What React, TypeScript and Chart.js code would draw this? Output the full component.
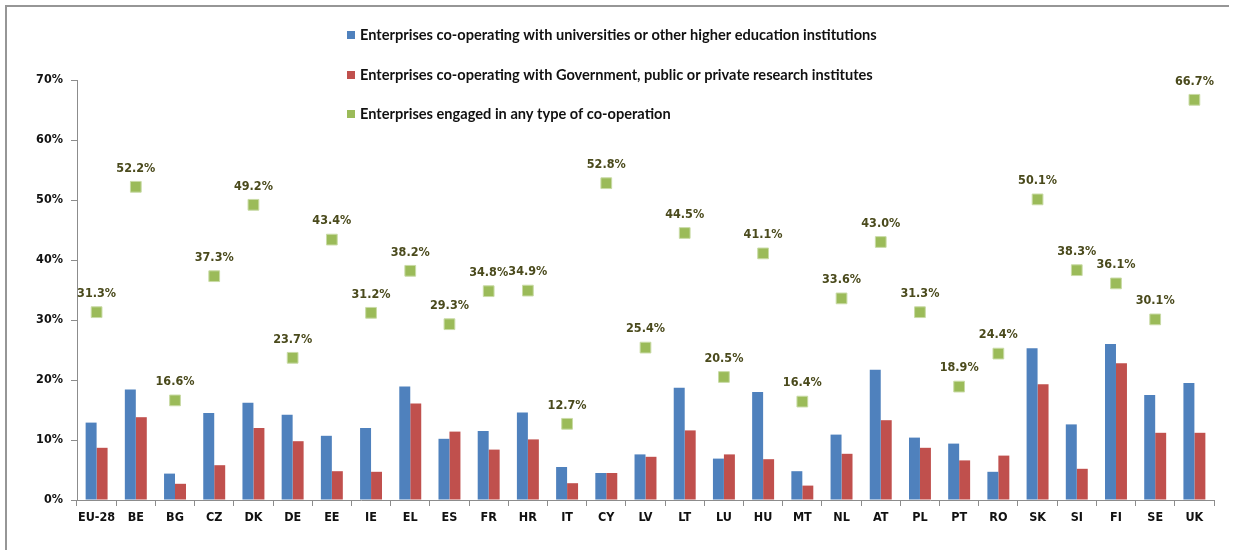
import React, { useEffect, useRef } from "react";
import { Chart, registerables } from "chart.js";

Chart.register(...registerables);

const categories = ["EU-28", "BE", "BG", "CZ", "DK", "DE", "EE", "IE", "EL", "ES", "FR", "HR", "IT", "CY", "LV", "LT", "LU", "HU", "MT", "NL", "AT", "PL", "PT", "RO", "SK", "SI", "FI", "SE", "UK"];

const universities = [12.9, 18.4, 4.4, 14.5, 16.2, 14.2, 10.7, 12.0, 18.9, 10.2, 11.5, 14.6, 5.5, 4.5, 7.6, 18.7, 6.9, 18.0, 4.8, 10.9, 21.7, 10.4, 9.4, 4.7, 25.3, 12.6, 26.0, 17.5, 19.5];

const government = [8.7, 13.8, 2.7, 5.8, 12.0, 9.8, 4.8, 4.7, 16.1, 11.4, 8.4, 10.1, 2.8, 4.5, 7.2, 11.6, 7.6, 6.8, 2.4, 7.7, 13.3, 8.7, 6.6, 7.4, 19.3, 5.2, 22.8, 11.2, 11.2];

const anyCooperation = [31.3, 52.2, 16.6, 37.3, 49.2, 23.7, 43.4, 31.2, 38.2, 29.3, 34.8, 34.9, 12.7, 52.8, 25.4, 44.5, 20.5, 41.1, 16.4, 33.6, 43.0, 31.3, 18.9, 24.4, 50.1, 38.3, 36.1, 30.1, 66.7];

const seriesLabels = [
  "Enterprises co-operating with universities or other higher education institutions",
  "Enterprises co-operating with Government, public or private research institutes",
  "Enterprises engaged in any type of co-operation",
];

const yTicks = [0, 10, 20, 30, 40, 50, 60, 70];

const BLUE = "#4F81BD";
const RED = "#C0504D";
const GREEN = "#9BBB59";
const AXIS = "#8c8c8c";
const TICK_FONT = '"DejaVu Sans Condensed", "DejaVu Sans", sans-serif';

const decorPlugin = {
  id: "decor",
  afterDatasetsDraw(chart: any) {
    const ctx = chart.ctx;
    const meta = chart.getDatasetMeta(2);
    const data = chart.data.datasets[2].data as number[];
    ctx.save();
    ctx.font = `bold 12.5px ${TICK_FONT}`;
    ctx.fillStyle = "#4a4a1c";
    ctx.textAlign = "center";
    ctx.textBaseline = "middle";
    meta.data.forEach((pt: any, i: number) => {
      ctx.fillText(data[i].toFixed(1) + "%", pt.x, pt.y - 18.5);
    });
    ctx.restore();
  },
  afterDraw(chart: any) {
    const ctx = chart.ctx;
    ctx.save();
    // frame
    ctx.strokeStyle = "#969696";
    ctx.lineWidth = 2;
    ctx.beginPath();
    ctx.moveTo(6, 550);
    ctx.lineTo(6, 6);
    ctx.lineTo(1229, 6);
    ctx.stroke();
    // legend
    const colors = [BLUE, RED, GREEN];
    const ys = [35, 75, 114];
    ctx.font = 'bold 14.6px Lato, "Liberation Sans", sans-serif';
    ctx.textBaseline = "middle";
    ctx.textAlign = "left";
    seriesLabels.forEach((label, i) => {
      ctx.fillStyle = colors[i];
      ctx.fillRect(347, ys[i] - 4, 8, 8);
      ctx.fillStyle = "#111111";
      ctx.fillText(label, 360, ys[i]);
    });
    ctx.restore();
  },
};

export default function App() {
  const canvasRef = useRef<HTMLCanvasElement | null>(null);

  useEffect(() => {
    document.body.style.margin = "0";
    const canvas = canvasRef.current;
    if (!canvas) return;
    const chart = new Chart(canvas, {
      type: "bar",
      data: {
        labels: categories,
        datasets: [
          {
            type: "bar",
            label: seriesLabels[0],
            data: universities,
            backgroundColor: BLUE,
            categoryPercentage: 0.56,
            barPercentage: 1.0,
            order: 1,
          },
          {
            type: "bar",
            label: seriesLabels[1],
            data: government,
            backgroundColor: RED,
            categoryPercentage: 0.56,
            barPercentage: 1.0,
            order: 2,
          },
          {
            type: "line",
            label: seriesLabels[2],
            data: anyCooperation,
            showLine: false,
            pointStyle: "rect",
            pointRadius: 7.6,
            pointHoverRadius: 7.6,
            pointBackgroundColor: GREEN,
            pointBorderColor: "#c9dba6",
            pointBorderWidth: 1,
            order: 0,
          },
        ],
      },
      options: {
        responsive: false,
        animation: false,
        layout: { padding: { left: 0, right: 20, top: 80, bottom: 0 } },
        plugins: {
          legend: { display: false },
          tooltip: { enabled: false },
        },
        scales: {
          x: {
            offset: true,
            grid: {
              display: true,
              offset: true,
              drawOnChartArea: false,
              drawTicks: true,
              tickLength: 6,
              color: AXIS,
            },
            border: { display: true, color: AXIS, width: 1 },
            ticks: {
              color: "#111111",
              font: { family: TICK_FONT, size: 12.5, weight: "bold" },
              padding: 4,
              maxRotation: 0,
              autoSkip: false,
            },
            afterFit(scale: any) {
              scale.height = 50;
            },
          },
          y: {
            min: 0,
            max: 70,
            afterBuildTicks(scale: any) {
              scale.ticks = yTicks.map((v) => ({ value: v }));
            },
            grid: {
              display: true,
              drawOnChartArea: false,
              drawTicks: true,
              tickLength: 6,
              color: AXIS,
            },
            border: { display: true, color: AXIS, width: 1 },
            ticks: {
              color: "#111111",
              font: { family: TICK_FONT, size: 12.5, weight: "bold" },
              padding: 8,
              callback: (v: any) => v + "%",
            },
            afterFit(scale: any) {
              scale.width = 77;
            },
          },
        },
      },
      plugins: [decorPlugin],
    });
    return () => chart.destroy();
  }, []);

  return (
    <div style={{ width: 1234, height: 550, background: "#ffffff" }}>
      <canvas ref={canvasRef} width={1234} height={550} style={{ display: "block" }} />
    </div>
  );
}
